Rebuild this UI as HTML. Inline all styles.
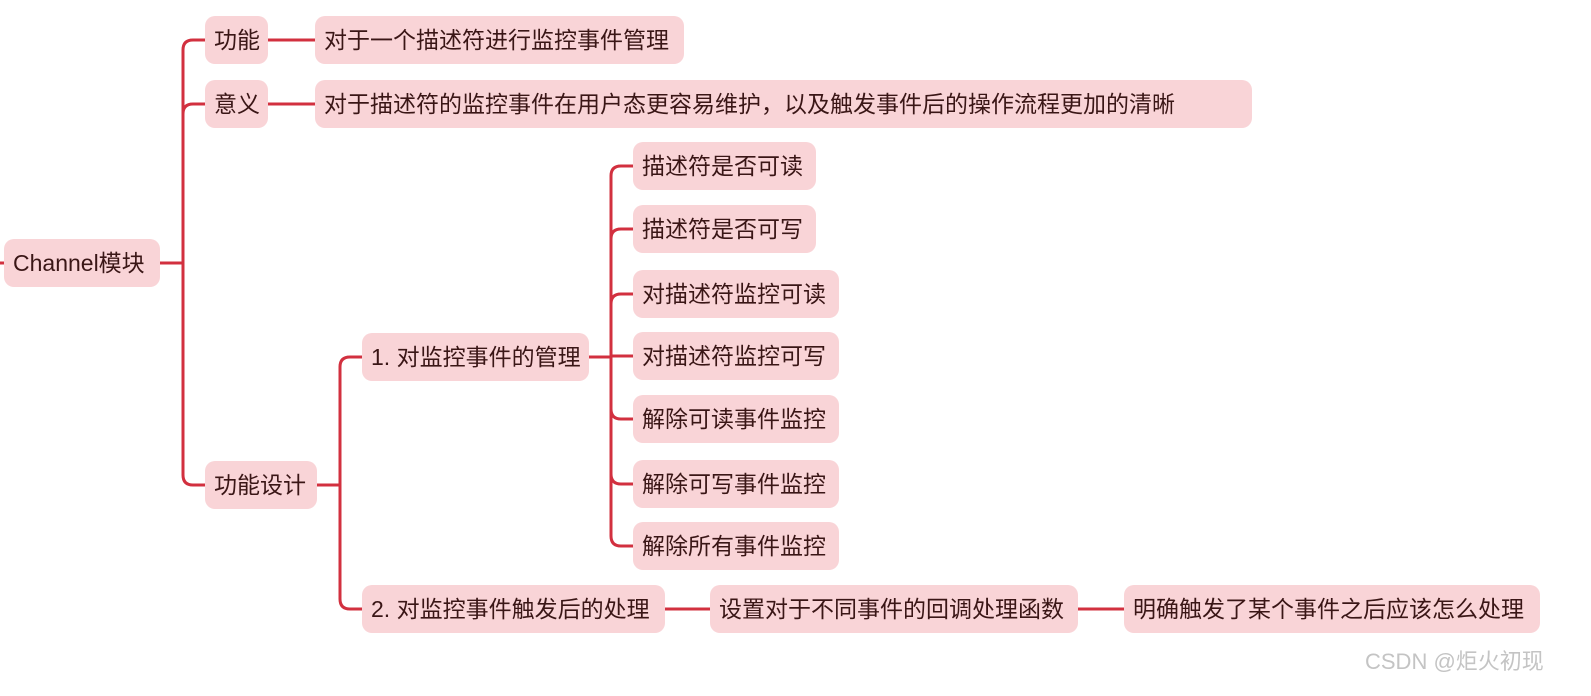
<!DOCTYPE html>
<html><head><meta charset="utf-8"><style>
body{margin:0;width:1591px;height:696px;background:#fff;overflow:hidden;position:relative;font-family:"Liberation Sans","Noto Sans CJK SC",sans-serif;}
.n{position:absolute;background:#f9d4d7;border-radius:10px;color:#3a1616;font-size:23px;height:48px;line-height:48px;padding:0 9px;box-sizing:border-box;white-space:nowrap;}
svg{position:absolute;left:0;top:0}
.wm{position:absolute;left:1365px;top:644px;color:#c4c4c4;font-size:22px;}
</style></head><body>
<svg width="1591" height="696" fill="none" stroke="#d2303f" stroke-width="3">
<path d="M0 263H5"/>
<path d="M160 263H183"/>
<path d="M205 40H193Q183 40 183 50V475Q183 485 193 485H205"/>
<path d="M205 104H193Q183 104 183 114"/>
<path d="M268 40H315M268 104H315"/>
<path d="M317 485H340"/>
<path d="M362 357H350Q340 357 340 367V599Q340 609 350 609H362"/>
<path d="M589 357H611"/>
<path d="M633 166H621Q611 166 611 176V536Q611 546 621 546H633"/>
<path d="M633 229H621Q611 229 611 239M633 294H621Q611 294 611 304M611 356H633M633 419H621Q611 419 611 409M633 484H621Q611 484 611 474"/>
<path d="M665 609H710M1078 609H1124"/>
</svg>
<div class="n" style="left:4px;top:239px;width:156px">Channel模块</div>
<div class="n" style="left:205px;top:16px;width:63px">功能</div>
<div class="n" style="left:315px;top:16px;width:369px">对于一个描述符进行监控事件管理</div>
<div class="n" style="left:205px;top:80px;width:63px">意义</div>
<div class="n" style="left:315px;top:80px;width:937px">对于描述符的监控事件在用户态更容易维护，以及触发事件后的操作流程更加的清晰</div>
<div class="n" style="left:205px;top:461px;width:112px">功能设计</div>
<div class="n" style="left:362px;top:333px;width:227px">1. 对监控事件的管理</div>
<div class="n" style="left:362px;top:585px;width:303px">2. 对监控事件触发后的处理</div>
<div class="n" style="left:633px;top:142px;width:183px">描述符是否可读</div>
<div class="n" style="left:633px;top:205px;width:183px">描述符是否可写</div>
<div class="n" style="left:633px;top:270px;width:206px">对描述符监控可读</div>
<div class="n" style="left:633px;top:332px;width:206px">对描述符监控可写</div>
<div class="n" style="left:633px;top:395px;width:206px">解除可读事件监控</div>
<div class="n" style="left:633px;top:460px;width:206px">解除可写事件监控</div>
<div class="n" style="left:633px;top:522px;width:206px">解除所有事件监控</div>
<div class="n" style="left:710px;top:585px;width:368px">设置对于不同事件的回调处理函数</div>
<div class="n" style="left:1124px;top:585px;width:416px">明确触发了某个事件之后应该怎么处理</div>
<div class="wm">CSDN @炬火初现</div>
</body></html>
